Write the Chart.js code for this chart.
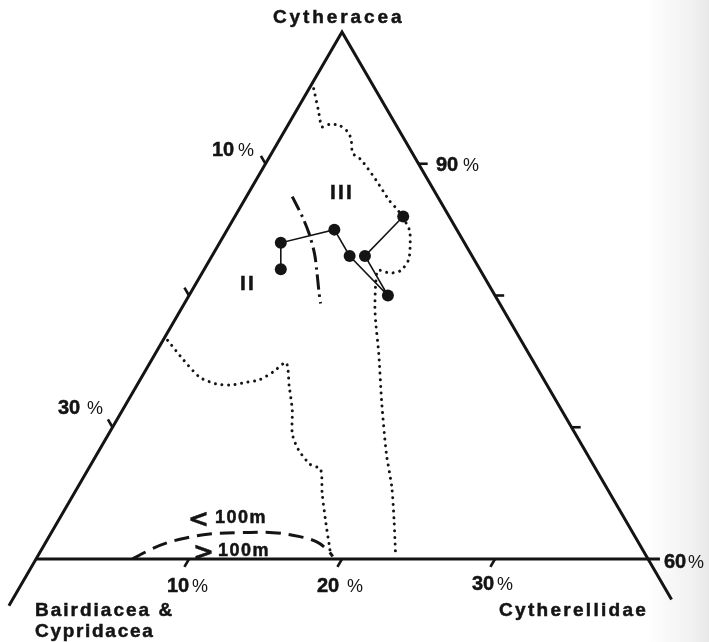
<!DOCTYPE html>
<html>
<head>
<meta charset="utf-8">
<script src="https://cdn.jsdelivr.net/npm/chart.js@4/dist/chart.umd.min.js"></script>
<style>
  html, body { margin: 0; padding: 0; }
  body {
    width: 709px; height: 642px; overflow: hidden;
    background: linear-gradient(to right, #fff 0, #fff 645px, #f2f2f2 690px, #e8e8e8 709px);
  }
  canvas { display: block; }
</style>
</head>
<body>
<canvas id="ternary" width="709" height="642"></canvas>
<script>
// Sample compositions (%), listed in the order the sample path joins them
const cytheracea    = [82, 84, 85, 83, 80, 83, 86];
const bairdiacea    = [13, 12,  8,  8,  7,  7,  3];
const cytherellidae = [ 5,  4,  7,  9, 13, 10, 11];

// Field boundaries, each point given as [Cytheracea %, Cytherellidae %]
const boundaryIII = [
  [95.7, 0.3], [94.1, 1.4], [92.8, 2.3], [93.0, 2.7], [92.9, 3.4], [92.4, 4.2],
  [91.8, 4.7], [90.8, 5.3], [90.3, 6.1], [88.8, 7.8], [87.2, 9.5], [86.4, 10.5],
  [85.0, 11.9], [83.7, 12.6], [82.7, 13.0], [81.9, 12.9], [81.7, 12.3], [81.9, 11.4],
  [80.8, 11.8], [79.1, 12.6], [78.0, 13.2], [75.6, 14.6], [71.8, 16.7], [68.0, 18.9],
  [65.5, 20.5], [63.0, 21.9], [60.4, 23.3]
];
const boundaryII = [
  [76.6, 0.3], [75.1, 2.1], [73.8, 3.8], [73.3, 5.1], [73.2, 6.1], [73.4, 7.0],
  [73.6, 7.8], [74.2, 8.4], [74.9, 8.9], [73.1, 10.0], [71.3, 11.1], [69.5, 12.0],
  [68.3, 13.0], [67.2, 14.3], [66.8, 15.2], [65.0, 16.2], [62.7, 17.6], [60.8, 18.8],
  [60.3, 19.1]
];
const boundaryIIandIII = [
  [87.5, 3.0], [86.0, 4.4], [84.7, 5.5], [83.2, 6.6], [81.9, 7.4], [80.2, 8.4], [79.4, 8.9]
];
const depth100m = [
  [60.0, 6.3], [60.7, 7.1], [61.2, 7.9], [61.6, 9.0], [61.9, 10.4], [62.0, 12.3],
  [62.0, 14.5], [61.7, 16.4], [61.3, 17.7], [60.7, 18.7], [60.2, 19.3]
];

// Axis ticks (%)
const cytheraceaMin   = 60;
const cytheraceaTicks = [90, 80, 70];    // right side
const bairdiaceaTicks = [10, 20, 30];    // left side
const cytherellidaeTicks = [10, 20, 30]; // base

const INK = '#141414';
const FONT = '"Liberation Sans", Arial, Helvetica, sans-serif';
const SYMBOL_FONT = '"DejaVu Sans", sans-serif';
const SQ3 = Math.sqrt(3) / 2;

// Ternary (Cytheracea a, Cytherellidae c) -> cartesian units of the plot
function tern(a, c) {
  return { x: c + (a - cytheraceaMin) / 2, y: (a - cytheraceaMin) * SQ3 };
}

const TICK = 0.6;
const span = 100 - cytheraceaMin;

// Frame: left side (with its outward run past the corner), apex, right side, base
const frameSides = [tern(cytheraceaMin - 3.54, 0), tern(100, 0), tern(cytheraceaMin - 3.08, span + 3.08)];
const frameBase  = [tern(cytheraceaMin, 0), tern(cytheraceaMin, span + 0.78)];

function lineSet(points, width, dash, extra) {
  return Object.assign({
    data: points, showLine: true, borderColor: INK, borderWidth: width,
    borderDash: dash || [], pointRadius: 0, fill: false, tension: 0
  }, extra || {});
}

const datasets = [];
datasets.push(lineSet(frameSides, 3, [], { borderJoinStyle: 'miter' }));
datasets.push(lineSet(frameBase, 3));

cytheraceaTicks.forEach(a => {
  datasets.push(lineSet([tern(a, 100 - a), tern(a, 100 - a + TICK)], 2.6));
});
bairdiaceaTicks.forEach(b => {
  datasets.push(lineSet([tern(100 - b, 0), tern(100 - b + TICK, -TICK)], 2.6));
});
cytherellidaeTicks.forEach(c => {
  datasets.push(lineSet([tern(cytheraceaMin, c), tern(cytheraceaMin - TICK, c)], 2.6));
});

const dotted = { borderCapStyle: 'round', tension: 0.25 };
datasets.push(lineSet(boundaryIII.map(p => tern(p[0], p[1])), 3, [0.001, 6.6], dotted));
datasets.push(lineSet(boundaryII.map(p => tern(p[0], p[1])), 3, [0.001, 6.6], dotted));
datasets.push(lineSet(boundaryIIandIII.map(p => tern(p[0], p[1])), 3, [15, 5, 2.5, 5], { tension: 0.3 }));
datasets.push(lineSet(depth100m.map(p => tern(p[0], p[1])), 3, [15, 8], { tension: 0.35 }));

// Sample path and points
const samples = cytheracea.map((a, i) => tern(a, cytherellidae[i]));
datasets.push({
  data: samples, showLine: true, borderColor: INK, borderWidth: 1.6,
  pointRadius: 6, pointBackgroundColor: INK, pointBorderColor: INK, pointBorderWidth: 0,
  tension: 0
});

// Text
const labels = [
  { t: 'Cytheracea', x: 273, y: 23, f: 'bold 19px', ls: 2.9 },
  { t: '10', x: 212, y: 156, f: 'bold 20px' }, { t: '%', x: 238, y: 156, f: '18px' },
  { t: '30', x: 58,  y: 414, f: 'bold 20px' }, { t: '%', x: 87,  y: 414, f: '18px' },
  { t: '90', x: 436, y: 171, f: 'bold 20px' }, { t: '%', x: 463, y: 171, f: '18px' },
  { t: '10', x: 167, y: 592, f: 'bold 20px' }, { t: '%', x: 192, y: 592, f: '18px' },
  { t: '20', x: 317, y: 592, f: 'bold 20px' }, { t: '%', x: 347, y: 592, f: '18px' },
  { t: '30', x: 472, y: 590, f: 'bold 20px' }, { t: '%', x: 497, y: 590, f: '18px' },
  { t: '60', x: 664, y: 568, f: 'bold 20px' }, { t: '%', x: 688, y: 568, f: '18px' },
  { t: 'Cytherellidae', x: 499, y: 616, f: 'bold 19px', ls: 2.3 },
  { t: 'Bairdiacea &', x: 35, y: 616, f: 'bold 19px', ls: 2.0 },
  { t: 'Cypridacea', x: 35, y: 637, f: 'bold 19px', ls: 1.7 },
  { t: 'III', x: 330, y: 199, f: 'bold 21px', ls: 2.2 },
  { t: 'II', x: 240, y: 290, f: 'bold 21px', ls: 2.2 },
  { t: '<', x: 188, y: 527, f: 'bold 25px', sym: true },
  { t: '100m', x: 215, y: 523, f: 'bold 18px', ls: 1.5 },
  { t: '>', x: 193, y: 560, f: 'bold 25px', sym: true },
  { t: '100m', x: 218, y: 556, f: 'bold 18px', ls: 1.5 }
];

const textPlugin = {
  id: 'ternaryText',
  afterDatasetsDraw(chart) {
    const ctx = chart.ctx;
    ctx.save();
    ctx.fillStyle = INK;
    ctx.strokeStyle = INK;
    ctx.lineWidth = 0.5;
    ctx.textBaseline = 'alphabetic';
    ctx.textAlign = 'left';
    labels.forEach(l => {
      ctx.font = l.f + ' ' + (l.sym ? SYMBOL_FONT : FONT);
      ctx.letterSpacing = (l.ls || 0) + 'px';
      ctx.fillText(l.t, l.x, l.y);
      if (l.f.indexOf('bold') === 0) ctx.strokeText(l.t, l.x, l.y);
    });
    ctx.restore();
  }
};

// Plot window chosen so the 60-100 % Cytheracea triangle fills the page
const PX_X = 612 / span, PX_Y = 527 / (span * SQ3);
new Chart(document.getElementById('ternary'), {
  type: 'scatter',
  data: { datasets },
  options: {
    responsive: false,
    animation: false,
    layout: { padding: 0, autoPadding: false },
    plugins: { legend: { display: false }, tooltip: { enabled: false } },
    scales: {
      x: { type: 'linear', display: false, min: -36 / PX_X, max: (709 - 36) / PX_X },
      y: { type: 'linear', display: false, min: -(642 - 559) / PX_Y, max: 559 / PX_Y }
    },
    elements: { line: { borderCapStyle: 'butt' } }
  },
  plugins: [textPlugin]
});
</script>
</body>
</html>
